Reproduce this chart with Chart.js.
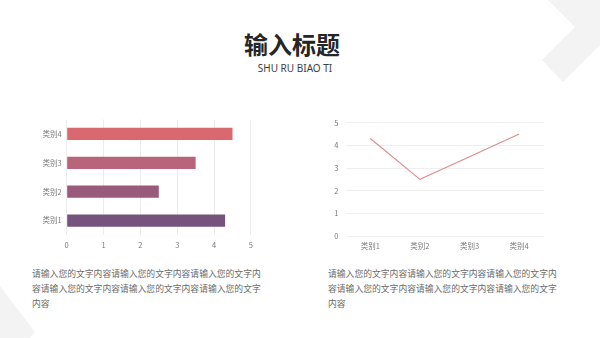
<!DOCTYPE html>
<html>
<head>
<meta charset="utf-8">
<script src="https://cdn.jsdelivr.net/npm/chart.js@4/dist/chart.umd.min.js"></script>
<style>
    html, body { margin: 0; padding: 0; background: #fff; }
    body { width: 600px; height: 338px; position: relative; overflow: hidden; font-family: "Noto Sans CJK SC", "Noto Sans", sans-serif; }
    .deco { position: absolute; left: 0; top: 0; }
    .title { position: absolute; left: -8px; width: 600px; top: 28px; text-align: center; font-size: 24px; font-weight: bold; color: #262626; line-height: 32px; }
    .subtitle { position: absolute; left: -5px; width: 600px; top: 61px; text-align: center; font-size: 10px; color: #404040; line-height: 14px; font-family: "Noto Sans", sans-serif; }
    .box { position: absolute; }
    .para { position: absolute; white-space: nowrap; font-size: 8.8px; line-height: 15px; color: #6b6b6b; }
</style>
</head>
<body>
<svg class="deco" width="600" height="338">
    <polygon points="548,0 575,27 542,60 563,82 600,45 600,0" fill="#f3f3f3"/>
    <polygon points="0,286 35,332 30,338 0,338" fill="#f3f3f3"/>
</svg>
<div class="title">输入标题</div>
<div class="subtitle">SHU RU BIAO TI</div>

<div class="box" style="left:30px; top:110px; width:229px; height:145px;"><canvas id="barChart"></canvas></div>
<div class="box" style="left:320px; top:110px; width:234px; height:146px;"><canvas id="lineChart"></canvas></div>

<div class="para" style="left:32px; top:266px;">请输入您的文字内容请输入您的文字内容请输入您的文字内<br>容请输入您的文字内容请输入您的文字内容请输入您的文字<br>内容</div>
<div class="para" style="left:328px; top:266px;">请输入您的文字内容请输入您的文字内容请输入您的文字内<br>容请输入您的文字内容请输入您的文字内容请输入您的文字<br>内容</div>

<script>
// --- chart data ---
const categories = ['类别1', '类别2', '类别3', '类别4'];
const barValues = [4.3, 2.5, 3.5, 4.5];
const lineValues = [4.3, 2.5, 3.5, 4.5];
const axisMin = 0;
const axisMax = 5;
const axisStep = 1;

const barColors = ['#76537d', '#9a5a7b', '#b8647a', '#d9696e'];
const tickFont = { family: '"Noto Sans CJK SC", sans-serif', size: 7.5 };
const tickColor = '#7a7a7a';

Chart.defaults.animation = false;
Chart.defaults.font.family = '"Noto Sans CJK SC", sans-serif';

function renderBarChart() {
    const canvas = document.getElementById('barChart');
    new Chart(canvas, {
        type: 'bar',
        data: {
            labels: categories,
            datasets: [{
                data: barValues,
                backgroundColor: barColors,
                borderWidth: 0,
                categoryPercentage: 1,
                barPercentage: 0.42
            }]
        },
        options: {
            indexAxis: 'y',
            responsive: true,
            maintainAspectRatio: false,
            layout: { padding: { top: 7, right: 5, left: 0, bottom: 0 } },
            scales: {
                x: {
                    min: axisMin,
                    max: axisMax,
                    ticks: { stepSize: axisStep, font: tickFont, color: tickColor, padding: 6, maxRotation: 0 },
                    grid: { color: '#ececec', drawTicks: false },
                    border: { display: false },
                    afterFit: (axis) => { axis.height = 20; }
                },
                y: {
                    reverse: true,
                    ticks: { font: tickFont, color: tickColor, padding: 5 },
                    grid: { display: false, drawTicks: false },
                    border: { display: false },
                    afterFit: (axis) => { axis.width = 36.7; }
                }
            },
            plugins: { legend: { display: false }, tooltip: { enabled: false } }
        }
    });
}

function renderLineChart() {
    const canvas = document.getElementById('lineChart');
    new Chart(canvas, {
        type: 'line',
        data: {
            labels: categories,
            datasets: [{
                data: lineValues,
                borderColor: '#dc8e95',
                borderWidth: 1.2,
                pointRadius: 0,
                tension: 0,
                fill: false
            }]
        },
        options: {
            responsive: true,
            maintainAspectRatio: false,
            layout: { padding: { top: 12.7, right: 10, left: 0, bottom: 0 } },
            scales: {
                x: {
                    offset: true,
                    ticks: { font: tickFont, color: tickColor, padding: 6, maxRotation: 0, minRotation: 0, autoSkip: false },
                    grid: { display: false, drawTicks: false },
                    border: { display: false },
                    afterFit: (axis) => { axis.height = 20; }
                },
                y: {
                    min: axisMin,
                    max: axisMax,
                    ticks: { stepSize: axisStep, font: tickFont, color: tickColor, padding: 7 },
                    grid: { color: '#efefef', drawTicks: false },
                    border: { display: false },
                    afterFit: (axis) => { axis.width = 25.5; }
                }
            },
            plugins: { legend: { display: false }, tooltip: { enabled: false } }
        }
    });
}

renderBarChart();
renderLineChart();
</script>
</body>
</html>
